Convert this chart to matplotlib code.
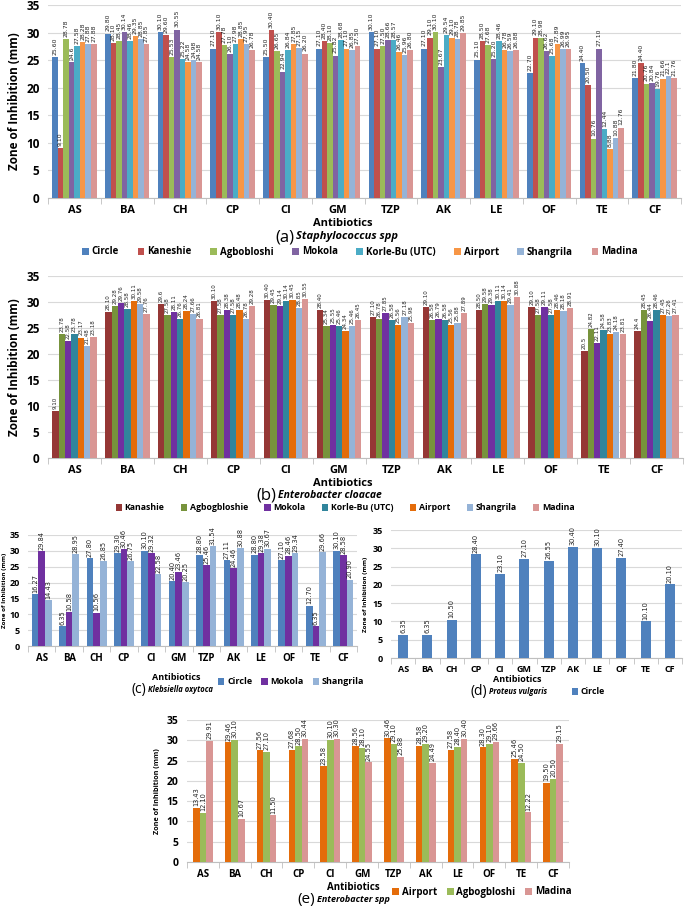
import numpy as np
import matplotlib
matplotlib.use('Agg')
import matplotlib.pyplot as plt
from matplotlib.patches import Patch

plt.rcParams['font.family'] = ['Open Sans', 'DejaVu Sans']

W, H = 685, 906

antibiotics = ['AS', 'BA', 'CH', 'CP', 'CI', 'GM', 'TZP', 'AK', 'LE', 'OF', 'TE', 'CF']

# (a) Staphylococcus spp - one row per site
staph_sites = ['Circle', 'Kaneshie', 'Agbobloshi', 'Mokola', 'Korle-Bu (UTC)', 'Airport', 'Shangrila', 'Madina']
staph_vals = [
    ['25.60', '29.80', '30.10', '27.10', '25.50', '27.10', '30.10', '27.10', '25.10', '22.70', '24.40', '21.80'],
    ['9.10', '28.10', '29.60', '30.10', '30.40', '28.40', '27.10', '29.10', '28.50', '29.10', '20.50', '24.40'],
    ['28.78', '28.45', '25.53', '27.78', '26.65', '28.10', '27.50', '30.10', '27.68', '28.98', '10.76', '20.76'],
    ['24.6', '30.14', '30.55', '26.10', '22.94', '25.82', '28.66', '23.67', '25.20', '26.62', '27.10', '20.84'],
    ['27.58', '28.46', '25.22', '27.98', '26.84', '28.68', '28.57', '29.54', '28.46', '25.68', '12.44', '19.76'],
    ['28.28', '29.35', '24.58', '28.85', '27.85', '27.10', '26.46', '29.10', '26.78', '27.89', '8.88', '21.66'],
    ['27.88', '28.85', '24.98', '27.95', '27.15', '26.85', '25.96', '28.78', '26.59', '26.99', '10.88', '22.1'],
    ['27.88', '27.85', '24.58', '26.78', '26.20', '27.50', '26.80', '29.85', '26.88', '26.95', '12.76', '21.76'],
]
staph_colors = ['#4F81BD', '#C0504D', '#9BBB59', '#8064A2', '#4BACC6', '#F79646', '#95B3D7', '#D99694']

# (b) Enterobacter cloacae
cloacae_sites = ['Kanashie', 'Agbogbloshie', 'Mokola', 'Korle-Bu (UTC)', 'Airport', 'Shangrila', 'Madina']
cloacae_vals = [
    ['9.10', '28.10', '29.6', '30.10', '30.40', '28.40', '27.10', '29.10', '28.50', '29.10', '20.5', '24.4'],
    ['23.78', '29.28', '27.58', '27.58', '29.45', '25.34', '26.78', '26.58', '29.58', '27.58', '24.82', '28.45'],
    ['22.58', '29.76', '28.11', '28.38', '29.14', '25.55', '27.85', '26.79', '29.38', '29.11', '22.11', '26.44'],
    ['23.78', '28.58', '26.76', '27.58', '30.14', '25.46', '26.58', '26.58', '30.11', '27.58', '24.58', '28.46'],
    ['23.17', '30.11', '28.24', '28.48', '30.45', '24.34', '25.56', '25.56', '30.14', '28.46', '23.83', '27.45'],
    ['21.48', '29.58', '27.66', '26.78', '28.85', '25.46', '27.18', '25.88', '29.41', '28.18', '24.18', '27.26'],
    ['23.18', '27.76', '26.81', '29.28', '30.55', '26.45', '25.98', '27.89', '30.88', '28.91', '23.81', '27.41'],
]
cloacae_colors = ['#953735', '#77933C', '#7030A0', '#31859C', '#E46C0A', '#95B3D7', '#D99694']

# (c) Klebsiella oxytoca
kleb_sites = ['Circle', 'Mokola', 'Shangrila']
kleb_vals = [
    ['16.27', '6.35', '27.80', '29.30', '30.10', '20.40', '28.80', '27.11', '28.80', '27.10', '12.70', '30.10'],
    ['29.84', '10.58', '10.56', '30.46', '29.32', '23.46', '25.46', '24.46', '29.38', '28.46', '6.35', '28.58'],
    ['14.43', '28.95', '26.85', '26.75', '22.58', '20.25', '31.54', '30.88', '30.67', '29.34', '29.66', '20.90'],
]
kleb_colors = ['#4F81BD', '#7030A0', '#95B3D7']

# (d) Proteus vulgaris
proteus_sites = ['Circle']
proteus_vals = [
    ['6.35', '6.35', '10.50', '28.40', '23.10', '27.10', '26.55', '30.40', '30.10', '27.40', '10.10', '20.10'],
]
proteus_colors = ['#4F81BD']

# (e) Enterobacter spp
entero_sites = ['Airport', 'Agbogbloshi', 'Madina']
entero_vals = [
    ['13.43', '29.46', '27.56', '27.68', '23.58', '28.56', '30.46', '28.58', '27.58', '28.30', '25.46', '19.50'],
    ['12.10', '30.10', '27.10', '28.50', '30.10', '28.10', '29.10', '29.20', '28.40', '29.10', '24.50', '20.50'],
    ['29.91', '10.67', '11.50', '30.44', '30.30', '24.55', '25.88', '24.49', '30.40', '29.66', '12.22', '29.15'],
]
entero_colors = ['#E46C0A', '#9BBB59', '#D99694']


def px_axes(fig, left, top, right, bottom):
    return fig.add_axes([left / W, 1 - bottom / H, (right - left) / W, (bottom - top) / H])


def grouped_bars(ax, vals, colors, group_w, lab_fs, tick_fs, ytick_fs):
    x = np.arange(len(antibiotics))
    n = len(vals)
    w = group_w / n
    for i, (row, c) in enumerate(zip(vals, colors)):
        nums = [float(s) for s in row]
        pos = x - group_w / 2 + w * (i + 0.5)
        ax.bar(pos, nums, w, color=c, zorder=3, linewidth=0)
        for p, v, s in zip(pos, nums, row):
            ax.text(p, v + 0.4, s, rotation=90, ha='center', va='bottom',
                    fontsize=lab_fs, color='#222222', zorder=4,
                    family=['Liberation Sans Narrow', 'DejaVu Sans'])
    ax.set_xlim(-0.5, len(antibiotics) - 0.5)
    ax.set_ylim(0, 35)
    ax.set_yticks(range(0, 36, 5))
    ax.set_xticks(x)
    ax.set_xticklabels(antibiotics, fontsize=tick_fs, fontweight='bold')
    ax.set_xticks(np.arange(-0.5, len(antibiotics)), minor=True)
    ax.tick_params(axis='x', which='major', length=0, pad=5)
    ax.tick_params(axis='x', which='minor', length=4, color='#BFBFBF')
    ax.tick_params(axis='y', length=0, labelsize=ytick_fs, pad=6)
    for t in ax.get_yticklabels():
        t.set_fontweight('bold')
    ax.grid(axis='y', color='#D9D9D9', linewidth=0.8, zorder=0)
    for sp in ['top', 'right', 'left']:
        ax.spines[sp].set_visible(False)
    ax.spines['bottom'].set_color('#BFBFBF')


def legend_row(fig, names, colors, cx, cy, fs, spacing):
    handles = [Patch(facecolor=c, label=n) for n, c in zip(names, colors)]
    fig.legend(handles=handles, loc='center', bbox_to_anchor=(cx / W, 1 - cy / H),
               ncol=len(names), frameon=False, handlelength=0.7,
               handleheight=0.7, handletextpad=0.3, columnspacing=spacing,
               borderpad=0, prop={'weight': 'bold', 'size': fs})


def caption(fig, letter, species, cx, cy, fs_letter, fs_sp):
    fig.text(cx / W, 1 - cy / H, letter, ha='right', va='center', fontsize=fs_letter)
    fig.text((cx + 2) / W, 1 - cy / H, species, ha='left', va='center',
             fontsize=fs_sp, fontweight='bold', style='italic')


fig = plt.figure(figsize=(W / 100, H / 100), dpi=100)

# (a)
ax = px_axes(fig, 48, 5, 681, 198)
grouped_bars(ax, staph_vals, staph_colors, 0.84, 4.4, 8, 8.5)
ax.set_ylabel('Zone of Inhibition (mm)', fontsize=8.5, fontweight='bold', labelpad=4)
fig.text(343 / W, 1 - 224 / H, 'Antibiotics', ha='center', va='center', fontsize=8, fontweight='bold')
caption(fig, '(a)', 'Staphylococcus spp', 294, 237, 12, 8)
legend_row(fig, staph_sites, staph_colors, 360, 252, 7, 1.9)

# (b)
ax = px_axes(fig, 48, 276, 683, 458)
grouped_bars(ax, cloacae_vals, cloacae_colors, 0.84, 4.0, 8, 8.5)
ax.set_ylabel('Zone of Inhibition (mm)', fontsize=8.5, fontweight='bold', labelpad=4)
fig.text(343 / W, 1 - 484 / H, 'Antibiotics', ha='center', va='center', fontsize=8, fontweight='bold')
caption(fig, '(b)', 'Enterobacter cloacae', 276, 496, 12, 7.5)
legend_row(fig, cloacae_sites, cloacae_colors, 345, 508, 6.3, 1.9)

# (c)
ax = px_axes(fig, 28, 535, 357, 646)
grouped_bars(ax, kleb_vals, kleb_colors, 0.73, 4.8, 7, 6.5)
ax.set_ylabel('Zone of Inhibition (mm)', fontsize=4.6, fontweight='bold', labelpad=2)
fig.text(176 / W, 1 - 678 / H, 'Antibiotics', ha='center', va='center', fontsize=6.5, fontweight='bold')
caption(fig, '(c)', 'Klebsiella oxytoca', 146, 690, 10, 5.5)
legend_row(fig, kleb_sites, kleb_colors, 291, 682, 6.5, 1.0)

# (d)
ax = px_axes(fig, 391, 530, 682, 658)
grouped_bars(ax, proteus_vals, proteus_colors, 0.41, 4.8, 6.5, 6.5)
ax.set_ylabel('Zone of Inhibition (mm)', fontsize=4.6, fontweight='bold', labelpad=3)
fig.text(517 / W, 1 - 680 / H, 'Antibiotics', ha='center', va='center', fontsize=6.5, fontweight='bold')
caption(fig, '(d)', 'Proteus vulgaris', 487, 692, 10, 5.5)
legend_row(fig, proteus_sites, proteus_colors, 588, 692, 6.3, 1.0)

# (e)
ax = px_axes(fig, 187, 720, 569, 862)
grouped_bars(ax, entero_vals, entero_colors, 0.62, 4.8, 7, 7.5)
ax.set_ylabel('Zone of Inhibition (mm)', fontsize=5.2, fontweight='bold', labelpad=4)
fig.text(353 / W, 1 - 887 / H, 'Antibiotics', ha='center', va='center', fontsize=7, fontweight='bold')
caption(fig, '(e)', 'Enterobacter spp', 315, 899, 11, 6.5)
legend_row(fig, entero_sites, entero_colors, 482, 892, 7, 1.0)

fig.savefig('out.png', dpi=100)
